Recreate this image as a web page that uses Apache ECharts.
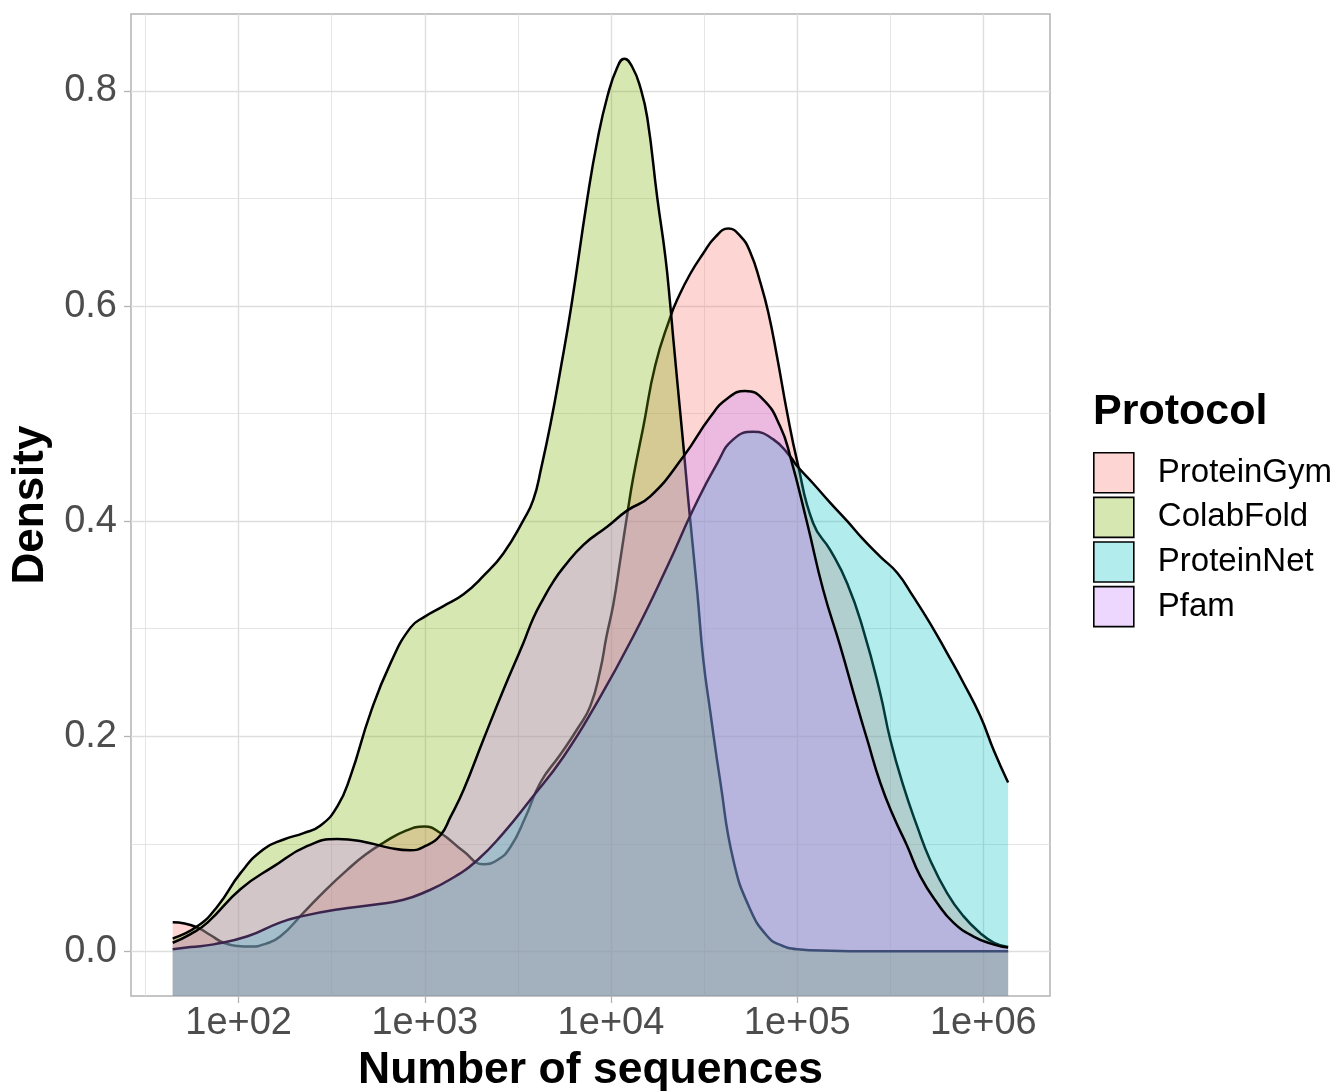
<!DOCTYPE html>
<html>
<head>
<meta charset="utf-8">
<script src="https://cdn.jsdelivr.net/npm/echarts@6/dist/echarts.min.js"></script>
<style>
html, body { margin: 0; padding: 0; background: #ffffff; }
#chart { width: 1343px; height: 1091px; }
</style>
</head>
<body>
<div id="chart"></div>
<script>
// ---------------- data (x = log10 of number of sequences, y = density) ----------------
const protocols = ['ProteinGym', 'ColabFold', 'ProteinNet', 'Pfam'];

const xMajorExponents = [2, 3, 4, 5, 6];
const xMinorExponents = [1.5, 2.5, 3.5, 4.5, 5.5];
const yMajorTicks = [0, 0.2, 0.4, 0.6, 0.8];
const yMinorTicks = [0.1, 0.3, 0.5, 0.7];

const proteinGymLog10N = [1.646, 1.710, 1.780, 1.850, 1.919, 1.995, 2.064, 2.145, 2.225, 2.349,
  2.467, 2.585, 2.682, 2.778, 2.896, 2.998, 3.084, 3.208, 3.315, 3.390,
  3.460, 3.541, 3.621, 3.728, 3.820, 3.889, 3.943, 3.975, 4.013, 4.050,
  4.088, 4.120, 4.174, 4.238, 4.319, 4.356, 4.426, 4.496, 4.560, 4.630,
  4.695, 4.748, 4.802, 4.845, 4.893, 4.947, 5.001, 5.086, 5.178, 5.269,
  5.355, 5.446, 5.500, 5.570, 5.645, 5.714, 5.806, 5.892, 5.983, 6.058, 6.133];
const proteinGymDensity = [0.027, 0.026, 0.022, 0.015, 0.008, 0.005, 0.0045, 0.007, 0.014, 0.036,
  0.057, 0.076, 0.090, 0.101, 0.112, 0.116, 0.110, 0.093, 0.081, 0.085,
  0.097, 0.125, 0.157, 0.183, 0.207, 0.228, 0.262, 0.292, 0.323, 0.364,
  0.407, 0.441, 0.488, 0.545, 0.590, 0.606, 0.630, 0.649, 0.664, 0.672,
  0.665, 0.650, 0.622, 0.594, 0.552, 0.500, 0.455, 0.398, 0.373, 0.342,
  0.299, 0.240, 0.197, 0.154, 0.116, 0.085, 0.054, 0.033, 0.017, 0.008, 0.004];

const colabFoldLog10N = [1.646, 1.780, 1.887, 2.011, 2.134, 2.242, 2.349, 2.440, 2.531, 2.601,
  2.709, 2.816, 2.923, 2.998, 3.100, 3.208, 3.315, 3.422, 3.530, 3.583,
  3.626, 3.675, 3.728, 3.787, 3.873, 3.927, 3.981, 4.034, 4.072, 4.115,
  4.158, 4.195, 4.249, 4.292, 4.319, 4.335, 4.367, 4.389, 4.415, 4.464,
  4.496, 4.534, 4.587, 4.657, 4.748, 4.840, 4.909, 5.001, 5.178, 5.392, 6.133];
const colabFoldDensity = [0.012, 0.0235, 0.042, 0.073, 0.095, 0.104, 0.110, 0.117, 0.135, 0.163,
  0.222, 0.268, 0.301, 0.311, 0.321, 0.332, 0.349, 0.370, 0.401, 0.420,
  0.450, 0.490, 0.540, 0.600, 0.700, 0.754, 0.795, 0.822, 0.830, 0.822,
  0.803, 0.775, 0.700, 0.646, 0.600, 0.569, 0.510, 0.470, 0.420, 0.333,
  0.271, 0.222, 0.158, 0.085, 0.039, 0.014, 0.006, 0.002, 0.0005, 0, 0];

const proteinNetLog10N = [1.646, 1.742, 1.866, 2.048, 2.225, 2.349, 2.531, 2.746, 2.886, 2.993,
  3.138, 3.283, 3.422, 3.567, 3.745, 3.927, 4.120, 4.303, 4.442, 4.571,
  4.657, 4.764, 4.872, 4.963, 5.001, 5.086, 5.178, 5.269, 5.355, 5.446,
  5.537, 5.623, 5.714, 5.806, 5.892, 5.983, 6.058, 6.133];
const proteinNetDensity = [0.002, 0.004, 0.0065, 0.014, 0.027, 0.033, 0.039, 0.0437, 0.048, 0.0545,
  0.067, 0.085, 0.110, 0.141, 0.181, 0.232, 0.293, 0.358, 0.411, 0.454,
  0.476, 0.483, 0.476, 0.460, 0.451, 0.435, 0.417, 0.400, 0.383, 0.367,
  0.352, 0.330, 0.305, 0.277, 0.250, 0.219, 0.186, 0.157];

const pfamLog10N = [1.646, 1.742, 1.834, 2.011, 2.188, 2.370, 2.531, 2.671, 2.816, 2.923,
  3.004, 3.084, 3.138, 3.208, 3.315, 3.422, 3.530, 3.583, 3.637, 3.691,
  3.745, 3.852, 3.981, 4.088, 4.211, 4.389, 4.534, 4.625, 4.721, 4.818,
  4.909, 4.963, 5.054, 5.140, 5.231, 5.323, 5.376, 5.446, 5.516, 5.591,
  5.661, 5.752, 5.838, 5.945, 6.053, 6.133];
const pfamDensity = [0.008, 0.016, 0.027, 0.058, 0.079, 0.098, 0.1045, 0.102, 0.096, 0.094,
  0.098, 0.108, 0.125, 0.150, 0.197, 0.243, 0.287, 0.310, 0.328, 0.344,
  0.357, 0.378, 0.395, 0.410, 0.423, 0.460, 0.497, 0.514, 0.521, 0.513,
  0.488, 0.460, 0.398, 0.336, 0.284, 0.228, 0.197, 0.157, 0.126, 0.098,
  0.070, 0.045, 0.027, 0.014, 0.0065, 0.0035];

// ---------------- styling ----------------
const FONT = "'Liberation Sans', Arial, Helvetica, sans-serif";
const fillColors = ['rgba(248,118,109,0.3)', 'rgba(124,174,0,0.3)', 'rgba(0,191,196,0.3)', 'rgba(199,124,255,0.3)'];
const solidColors = ['#F8766D', '#7CAE00', '#00BFC4', '#C77CFF'];
const xs = [proteinGymLog10N, colabFoldLog10N, proteinNetLog10N, pfamLog10N];
const ys = [proteinGymDensity, colabFoldDensity, proteinNetDensity, pfamDensity];

const gridLineData = []
  .concat(xMinorExponents.map(v => ({ xAxis: v, lineStyle: { color: '#DEDEDE', width: 0.8, type: 'solid' } })))
  .concat(yMinorTicks.map(v => ({ yAxis: v, lineStyle: { color: '#DEDEDE', width: 0.8, type: 'solid' } })))
  .concat(xMajorExponents.map(v => ({ xAxis: v, lineStyle: { color: '#DEDEDE', width: 1.4, type: 'solid' } })))
  .concat(yMajorTicks.map(v => ({ yAxis: v, lineStyle: { color: '#DEDEDE', width: 1.4, type: 'solid' } })));

// each group gets its own z so that its fill covers the outlines of the groups drawn before it
const densitySeries = protocols.map((name, i) => ({
  name: name,
  type: 'line',
  data: xs[i].map((x, j) => [x, ys[i][j]]),
  smooth: 0.5,
  symbol: 'none',
  showSymbol: false,
  itemStyle: { color: solidColors[i] },
  lineStyle: { color: '#000000', width: 2.5 },
  areaStyle: { color: fillColors[i], opacity: 1, origin: 'start' },
  emphasis: { disabled: true },
  silent: true,
  z: 2 + i
}));

const gridSeries = {
  name: '__grid',
  type: 'line',
  data: [],
  symbol: 'none',
  silent: true,
  z: 1,
  markLine: {
    silent: true,
    z: 1,
    symbol: ['none', 'none'],
    label: { show: false },
    emphasis: { disabled: true },
    animation: false,
    data: gridLineData
  }
};

const chart = echarts.init(document.getElementById('chart'), null, { renderer: 'canvas' });
chart.setOption({
  animation: false,
  backgroundColor: '#ffffff',
  textStyle: { fontFamily: FONT },
  grid: {
    left: 131, top: 14, right: 293, bottom: 95,
    show: true, borderColor: '#B3B3B3', borderWidth: 1.5, backgroundColor: 'transparent',
    containLabel: false, outerBoundsMode: 'none'
  },
  xAxis: {
    type: 'value',
    min: 1.422, max: 6.358,
    axisLine: { show: false, onZero: false },
    splitLine: { show: false },
    axisTick: { show: true, customValues: xMajorExponents, length: 7, lineStyle: { color: '#B3B3B3', width: 1.3 } },
    axisLabel: {
      customValues: xMajorExponents,
      formatter: v => '1e+' + String(Math.round(v)).padStart(2, '0'),
      fontSize: 38, color: '#4D4D4D', fontFamily: FONT, margin: 9
    },
    name: 'Number of sequences',
    nameLocation: 'middle',
    nameGap: 50,
    nameTextStyle: { fontSize: 44.5, fontWeight: 'bold', color: '#000000', fontFamily: FONT }
  },
  yAxis: {
    type: 'value',
    min: -0.0415, max: 0.8715,
    axisLine: { show: false, onZero: false },
    splitLine: { show: false },
    axisTick: { show: true, customValues: yMajorTicks, length: 7, lineStyle: { color: '#B3B3B3', width: 1.3 } },
    axisLabel: {
      customValues: yMajorTicks,
      formatter: v => v.toFixed(1),
      fontSize: 38, color: '#4D4D4D', fontFamily: FONT, margin: 14
    },
    name: 'Density',
    nameLocation: 'middle',
    nameRotate: 90,
    nameGap: 69,
    nameTextStyle: { fontSize: 44, fontWeight: 'bold', color: '#000000', fontFamily: FONT }
  },
  legend: {
    data: protocols.map((n, i) => ({
      name: n,
      icon: 'rect',
      itemStyle: { color: fillColors[i], borderColor: '#000000', borderWidth: 1.6, opacity: 1 }
    })),
    orient: 'vertical',
    left: 1093,
    top: 452,
    itemWidth: 40,
    itemHeight: 40,
    itemGap: 3,
    padding: 0,
    selectedMode: false,
    textStyle: { fontSize: 33, color: '#000000', fontFamily: FONT, padding: [0, 0, 0, 19] }
  },
  graphic: [{
    type: 'text',
    left: 1093,
    top: 391,
    silent: true,
    style: { text: 'Protocol', font: 'bold 43px ' + FONT, fill: '#000000' }
  }],
  series: [gridSeries].concat(densitySeries)
});
</script>
</body>
</html>
